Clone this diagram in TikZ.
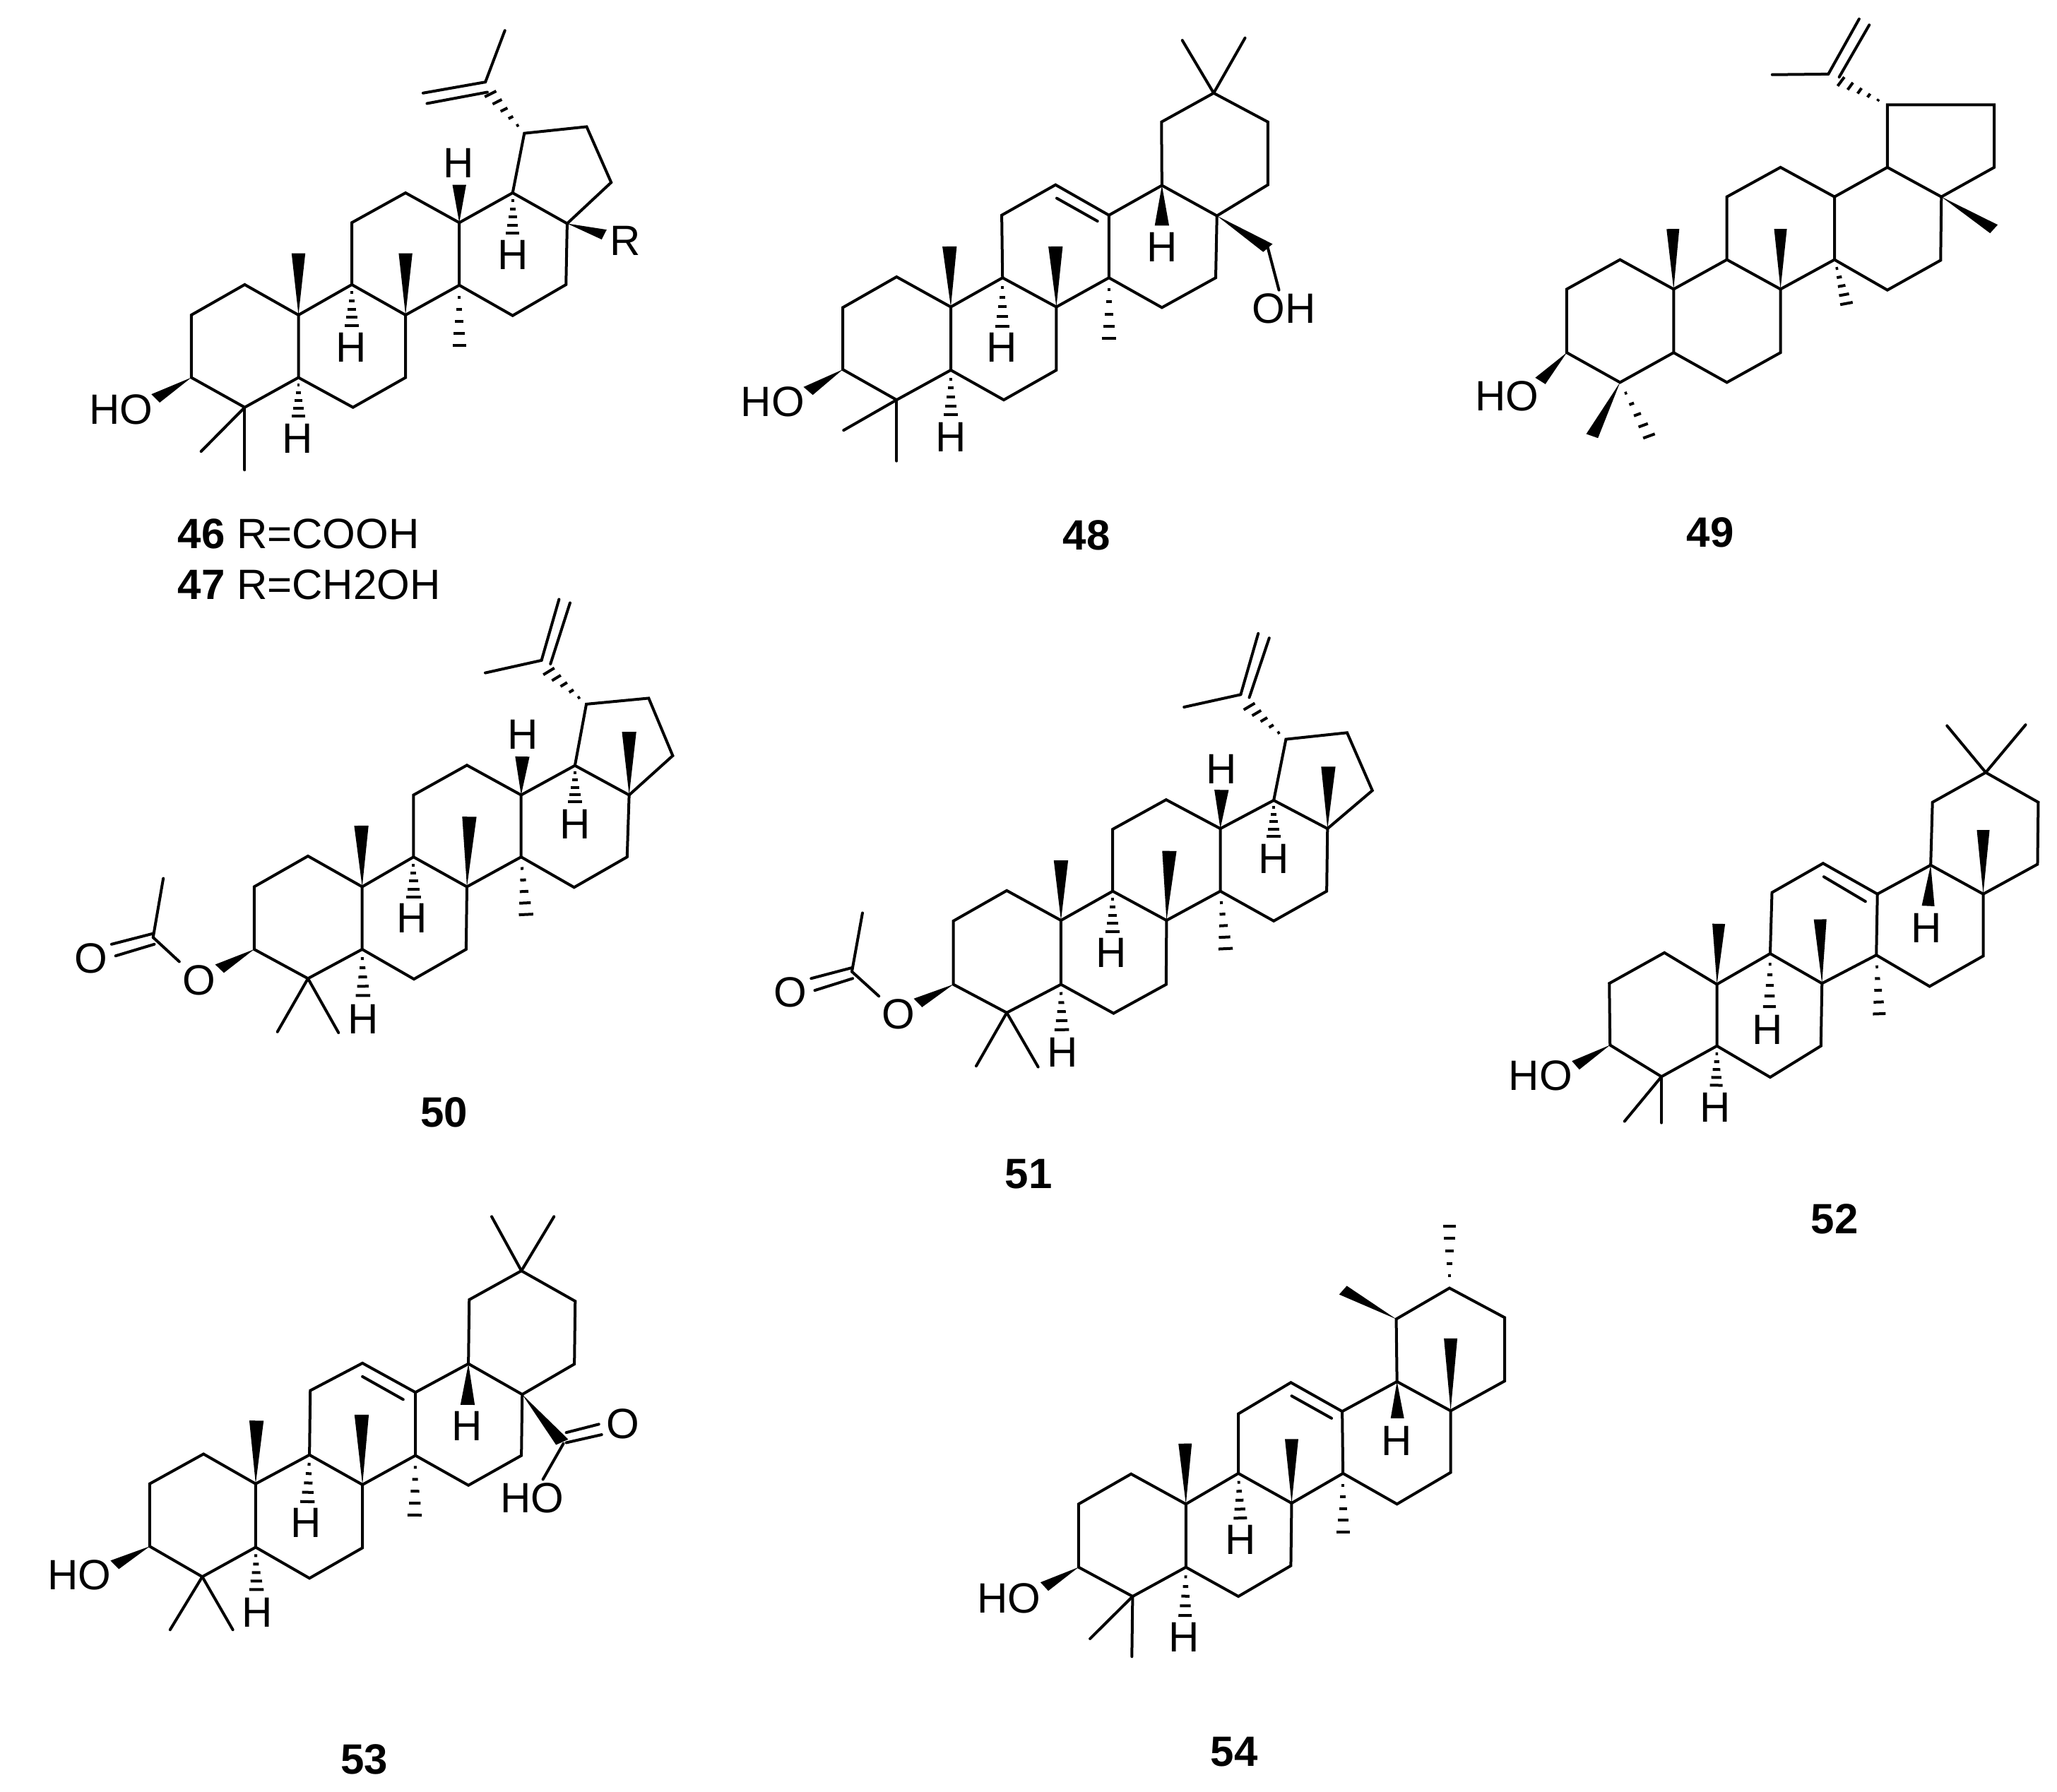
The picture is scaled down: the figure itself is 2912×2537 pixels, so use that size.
\documentclass[tikz,border=0pt]{standalone}
\usepackage{fontspec}
\setmainfont{Liberation Sans}
\usepackage{tikz}
\usetikzlibrary{calc}

\tikzset{
  bond/.style={line width=1pt,line cap=round},
  atom/.style={inner sep=1pt,font=\fontsize{15}{17}\selectfont},
  tag/.style={inner sep=0pt,font=\fontsize{15}{17}\selectfont},
  molview/.style n args={4}{shift={(#1,#2)},xscale=#3/1560,yscale=#4/1565},
}
\newcommand{\atoms}[1]{\foreach \n/\px/\py in {#1} {\coordinate (\n) at (\px,\py);}}
\newcommand{\wedgebond}[2]{\fill (#1) -- ($(#2)!4.4pt!90:(#1)$) -- ($(#2)!4.4pt!-90:(#1)$) -- cycle;}
\newcommand{\hashbond}[2]{\foreach \t [evaluate=\t as \w using 4.4*\t] in {.2,.4,.6,.8,1} {\draw[line width=1pt] ($(#1)!\t!(#2)!\w pt!90:(#1)$) -- ($(#1)!\t!(#2)!\w pt!-90:(#1)$);}}
\newcommand{\ringbonds}{\draw[bond] (a1) -- (a2) -- (a3) -- (a4) -- (a5) -- (a6) -- cycle;
  \draw[bond] (a3) -- (b1) -- (b2) -- (b3) -- (b4) -- (a4);
  \draw[bond] (b1) -- (c1) -- (c2) -- (c3) -- (c4) -- (b2);
  \draw[bond] (c3) -- (d1) -- (d2) -- (d3) -- (d4) -- (c4);}
\newcommand{\gemdimethyl}{\draw[bond] (a5) -- (mea); \draw[bond] (a5) -- (meb);}
\newcommand{\isopropenyl}{\draw[bond] (d1) -- (e1) -- (e2) -- (e3) -- (d2);
  \draw[bond] (f) -- (ma); \draw[bond] (f) -- (cha); \draw[bond] (fb) -- (chb);
  \hashbond{e1}{hf}}
\newcommand{\ringsix}{\draw[bond] (d1) -- (e1) -- (e2) -- (e3) -- (e4) -- (d2);}

\begin{document}
\begin{tikzpicture}[x=0.25pt,y=-0.25pt]
\useasboundingbox (0,0) rectangle (2912,2537);

%Molecule 46/47
\begin{scope}[molview={100}{20}{860}{660},name prefix=m46-]
\atoms{a1/310/1010,a2/447/908,a3/585/1010,a4/585/1220,a5/447/1320,a6/310/1220,b1/722/908,b2/860/1010,b3/860/1220,b4/725/1320,c1/722/700,c2/860/600,c3/998/700,c4/998/910,d1/1135/600,d2/1275/703,d3/1272/908,d4/1135/1012,e1/1165/400,e2/1325/378,e3/1388/565,f/1065/228,fb/1070/262,ma/1115/55,cha/905/265,chb/915/300,hf/1078/268,mea/335/1468,meb/447/1530,me10/585/803,me8/860/803,hh9/722/1045,me14/998/1112,hh5/585/1350,hh13/998/573,hh18/1135/735,rw/1370/740,ow/218/1290}
\ringbonds
\isopropenyl
\gemdimethyl
\wedgebond{a3}{me10}
\wedgebond{b2}{me8}
\wedgebond{c3}{hh13}
\wedgebond{d2}{rw}
\wedgebond{a6}{ow}
\hashbond{b1}{hh9}
\hashbond{c4}{me14}
\hashbond{a4}{hh5}
\hashbond{d1}{hh18}
% Text Node
\node[atom] (H9) at (720,1118) {H};
\node[atom] (H5) at (582,1425) {H};
\node[atom] (H13) at (996,500) {H};
\node[atom] (H18) at (1135,808) {H};
\node[atom] (R) at (1425,762) {R};
\node[atom] (HO) at (130,1327) {HO};
\end{scope}

%Molecule 48
\begin{scope}[molview={1020}{20}{900}{660},name prefix=m48-]
\atoms{a1/300/985,a2/432/882,a3/565/983,a4/565/1195,a5/432/1295,a6/300/1193,b1/692/885,b2/824/983,b3/824/1195,b4/695/1295,c1/690/675,c2/822/573,c3/953/675,c4/953/885,d1/1083/575,d2/1218/677,d3/1215/885,d4/1083/985,e1/1082/362,e2/1210/265,e3/1343/362,e4/1343/573,mc/1133/88,md/1287/80,ia/825/618,ib/925/695,mea/302/1397,meb/432/1500,me10/562/780,me8/822/780,hh18/1083/710,ch/1343/785,hh9/692/1048,me14/953/1088,hh5/565/1345,ow/215/1265}
\ringbonds
\ringsix
\gemdimethyl
\draw[bond] (e2) -- (mc);
\draw[bond] (e2) -- (md);
\draw[bond] (ia) -- (ib);
\wedgebond{a3}{me10}
\wedgebond{b2}{me8}
\wedgebond{d1}{hh18}
\wedgebond{d2}{ch}
\wedgebond{a6}{ow}
\hashbond{b1}{hh9}
\hashbond{c4}{me14}
\hashbond{a4}{hh5}
% Text Node
\node[atom] (H9) at (690,1120) {H};
\node[atom] (H5) at (565,1420) {H};
\node[atom] (H18) at (1083,782) {H};
\node[atom] (HO) at (128,1302) {HO};
\node[atom] (OH) at (1382,988) {OH};
\draw[bond] (ch) -- (OH);
\end{scope}

%Molecule 49
\begin{scope}[molview={2060}{10}{800}{660},name prefix=m49-]
\atoms{a1/308/947,a2/455/848,a3/603/947,a4/603/1160,a5/455/1260,a6/308/1160,b1/750/848,b2/898/947,b3/898/1160,b4/750/1260,c1/750/637,c2/898/538,c3/1047/637,c4/1047/848,d1/1193/538,d2/1342/637,d3/1340/850,d4/1193/950,e1/1193/328,e2/1488/328,e3/1488/538,f/1030/225,fb/1060/235,ma/875/227,cha/1115/40,chb/1143/60,hf/1065/250,me10/601/745,me8/898/745,me17/1487/745,ow/235/1255,mew/378/1440,meh/535/1440,me14/1080/995}
\ringbonds
\isopropenyl
\wedgebond{a3}{me10}
\wedgebond{b2}{me8}
\wedgebond{d2}{me17}
\wedgebond{a6}{ow}
\wedgebond{a5}{mew}
\hashbond{a5}{meh}
\hashbond{c4}{me14}
% Text Node
\node[atom] (HO) at (143,1305) {HO};
\end{scope}

%Molecule 50
\begin{scope}[molview={80}{840}{900}{660},name prefix=m50-]
\atoms{a1/485/985,a2/617/882,a3/750/985,a4/750/1195,a5/617/1293,a6/485/1195,b1/876/885,b2/1007/985,b3/1005/1195,b4/877/1295,c1/876/677,c2/1007/577,c3/1140/677,c4/1140/885,d1/1272/578,d2/1405/677,d3/1400/885,d4/1270/987,e1/1300/372,e2/1453/352,e3/1512/545,f/1190/225,fb/1212/237,ma/1052/267,cha/1233/20,chb/1260/32,hf/1208/262,mea/542/1472,meb/692/1475,me10/748/780,me8/1013/750,hh13/1143/548,me17/1405/465,ow/400/1260,hh9/876/1020,me14/1152/1078,hh18/1272/700,hh5/752/1350,ac/237/1155,acm/262/957,dba/237/1142,dbb/135/1178,dbc/240/1178,dbd/145/1217}
\ringbonds
\isopropenyl
\gemdimethyl
\wedgebond{a3}{me10}
\wedgebond{b2}{me8}
\wedgebond{c3}{hh13}
\wedgebond{d2}{me17}
\wedgebond{a6}{ow}
\hashbond{b1}{hh9}
\hashbond{c4}{me14}
\hashbond{d1}{hh18}
\hashbond{a4}{hh5}
% Text Node
\node[atom] (H9) at (873,1090) {H};
\node[atom] (H5) at (753,1430) {H};
\node[atom] (H13) at (1145,475) {H};
\node[atom] (H18) at (1272,775) {H};
\node[atom] (Oe) at (350,1298) {O};
\node[atom] (Oc) at (85,1225) {O};
\draw[bond] (Oe) -- (ac);
\draw[bond] (ac) -- (acm);
\draw[bond] (dba) -- (dbb);
\draw[bond] (dbc) -- (dbd);
\end{scope}

%Molecule 51
\begin{scope}[molview={1060}{880}{900}{660},name prefix=m51-]
\atoms{a1/502/1005,a2/633/903,a3/766/1003,a4/766/1218,a5/633/1313,a6/502/1218,b1/893/905,b2/1025/1003,b3/1024/1218,b4/895/1315,c1/893/697,c2/1024/598,c3/1157/695,c4/1157/905,d1/1288/600,d2/1420/695,d3/1418/905,d4/1288/1005,e1/1318/395,e2/1468/373,e3/1530/567,f/1207/245,fb/1228/255,ma/1068/287,cha/1250/40,chb/1277/55,hf/1228/285,mea/558/1492,meb/710/1495,me10/766/802,me8/1032/770,hh13/1160/565,me17/1422/487,ow/415/1280,hh9/893/1040,me14/1170/1098,hh18/1288/720,hh5/768/1370,ac/253/1175,acm/279/978,dba/253/1162,dbb/153/1198,dbc/255/1198,dbd/162/1238}
\ringbonds
\isopropenyl
\gemdimethyl
\wedgebond{a3}{me10}
\wedgebond{b2}{me8}
\wedgebond{c3}{hh13}
\wedgebond{d2}{me17}
\wedgebond{a6}{ow}
\hashbond{b1}{hh9}
\hashbond{c4}{me14}
\hashbond{d1}{hh18}
\hashbond{a4}{hh5}
% Text Node
\node[atom] (H9) at (890,1112) {H};
\node[atom] (H5) at (770,1445) {H};
\node[atom] (H13) at (1160,495) {H};
\node[atom] (H18) at (1288,797) {H};
\node[atom] (Oe) at (368,1318) {O};
\node[atom] (Oc) at (102,1245) {O};
\draw[bond] (Oe) -- (ac);
\draw[bond] (ac) -- (acm);
\draw[bond] (dba) -- (dbb);
\draw[bond] (dbc) -- (dbd);
\end{scope}

%Molecule 52
\begin{scope}[molview={2110}{1000}{800}{660},name prefix=m52-]
\atoms{a1/328/930,a2/480/827,a3/625/933,a4/625/1140,a5/472/1243,a6/330/1137,b1/772/830,b2/915/930,b3/912/1140,b4/772/1245,c1/777/625,c2/918/527,c3/1068/630,c4/1065/835,d1/1215/533,d2/1360/630,d3/1360/838,d4/1212/940,e1/1220/322,e2/1367/222,e3/1512/322,e4/1510/530,mc/1260/65,md/1477/62,ia/920/572,ib/1035/655,mea/370/1393,meb/472/1398,me10/630/730,me8/910/715,hh18/1208/670,me17/1360/415,ow/235/1205,hh9/770/1008,me14/1073/1032,hh5/623/1272}
\ringbonds
\ringsix
\gemdimethyl
\draw[bond] (e2) -- (mc);
\draw[bond] (e2) -- (md);
\draw[bond] (ia) -- (ib);
\wedgebond{a3}{me10}
\wedgebond{b2}{me8}
\wedgebond{d1}{hh18}
\wedgebond{d2}{me17}
\wedgebond{a6}{ow}
\hashbond{b1}{hh9}
\hashbond{c4}{me14}
\hashbond{a4}{hh5}
% Text Node
\node[atom] (H9) at (765,1085) {H};
\node[atom] (H5) at (620,1347) {H};
\node[atom] (H18) at (1203,745) {H};
\node[atom] (HO) at (138,1240) {HO};
\end{scope}

%Molecule 53
\begin{scope}[molview={40}{1700}{900}{660},name prefix=m53-]
\atoms{a1/298/950,a2/430/850,a3/558/950,a4/558/1163,a5/427/1262,a6/298/1160,b1/690/853,b2/820/953,b3/820/1165,b4/690/1267,c1/692/637,c2/820/545,c3/950/643,c4/950/855,d1/1080/547,d2/1212/650,d3/1210/855,d4/1080/955,e1/1082/332,e2/1210/235,e3/1342/337,e4/1340/548,mc/1137/53,md/1290/53,ia/820/590,ib/920/667,mea/348/1440,meb/502/1440,me10/560/738,me8/818/718,hh18/1078/685,cw/1310/810,ow/212/1222,cx/1313/815,dba/1320/778,dbb/1400/750,dbc/1320/812,dbd/1407/785,hh9/685/1010,me14/948/1055,hh5/560/1305}
\ringbonds
\ringsix
\gemdimethyl
\draw[bond] (e2) -- (mc);
\draw[bond] (e2) -- (md);
\draw[bond] (ia) -- (ib);
\wedgebond{a3}{me10}
\wedgebond{b2}{me8}
\wedgebond{d1}{hh18}
\wedgebond{d2}{cw}
\wedgebond{a6}{ow}
\hashbond{b1}{hh9}
\hashbond{c4}{me14}
\hashbond{a4}{hh5}
% Text Node
\node[atom] (H9) at (682,1082) {H};
\node[atom] (H5) at (562,1383) {H};
\node[atom] (H18) at (1076,757) {H};
\node[atom] (HO) at (125,1257) {HO};
\node[atom] (Oc) at (1460,750) {O};
\node[atom] (HOc) at (1237,997) {HO};
\draw[bond] (dba) -- (dbb);
\draw[bond] (dbc) -- (dbd);
\draw[bond] (cx) -- (HOc);
\end{scope}

%Molecule 54
\begin{scope}[molview={1360}{1700}{840}{660},name prefix=m54-]
\atoms{a1/310/1018,a2/448/917,a3/592/1018,a4/592/1230,a5/452/1328,a6/310/1230,b1/730/915,b2/870/1015,b3/868/1225,b4/730/1328,c1/730/715,c2/868/610,c3/1003/707,c4/1005/915,d1/1147/607,d2/1288/705,d3/1288/912,d4/1147/1018,e1/1145/397,e2/1285/293,e3/1430/392,e4/1430/605,ia/870/655,ib/975/730,mea/340/1470,meb/450/1530,me10/590/815,me8/870/800,hh18/1148/730,me17/1288/462,mew/1005/300,ow/220/1295,hh9/735/1065,me14/1005/1112,hh5/590/1392,meh/1285/85}
\ringbonds
\ringsix
\gemdimethyl
\draw[bond] (ia) -- (ib);
\wedgebond{a3}{me10}
\wedgebond{b2}{me8}
\wedgebond{d1}{hh18}
\wedgebond{d2}{me17}
\wedgebond{e1}{mew}
\wedgebond{a6}{ow}
\hashbond{b1}{hh9}
\hashbond{c4}{me14}
\hashbond{a4}{hh5}
\hashbond{e2}{meh}
% Text Node
\node[atom] (H9) at (735,1138) {H};
\node[atom] (H5) at (587,1465) {H};
\node[atom] (H18) at (1147,805) {H};
\node[atom] (HO) at (127,1335) {HO};
\end{scope}

% Text Node
\node[tag,anchor=west] (n46) at (251,756) {\textbf{46} R=COOH};
\node[tag,anchor=west] (n47) at (251,828) {\textbf{47} R=CH2OH};
\node[tag] (n48) at (1538,758) {\textbf{48}};
\node[tag] (n49) at (2421,754) {\textbf{49}};
\node[tag] (n50) at (629,1575) {\textbf{50}};
\node[tag] (n51) at (1456,1662) {\textbf{51}};
\node[tag] (n52) at (2597,1726) {\textbf{52}};
\node[tag] (n53) at (516,2491) {\textbf{53}};
\node[tag] (n54) at (1747,2480) {\textbf{54}};

\end{tikzpicture}
\end{document}
